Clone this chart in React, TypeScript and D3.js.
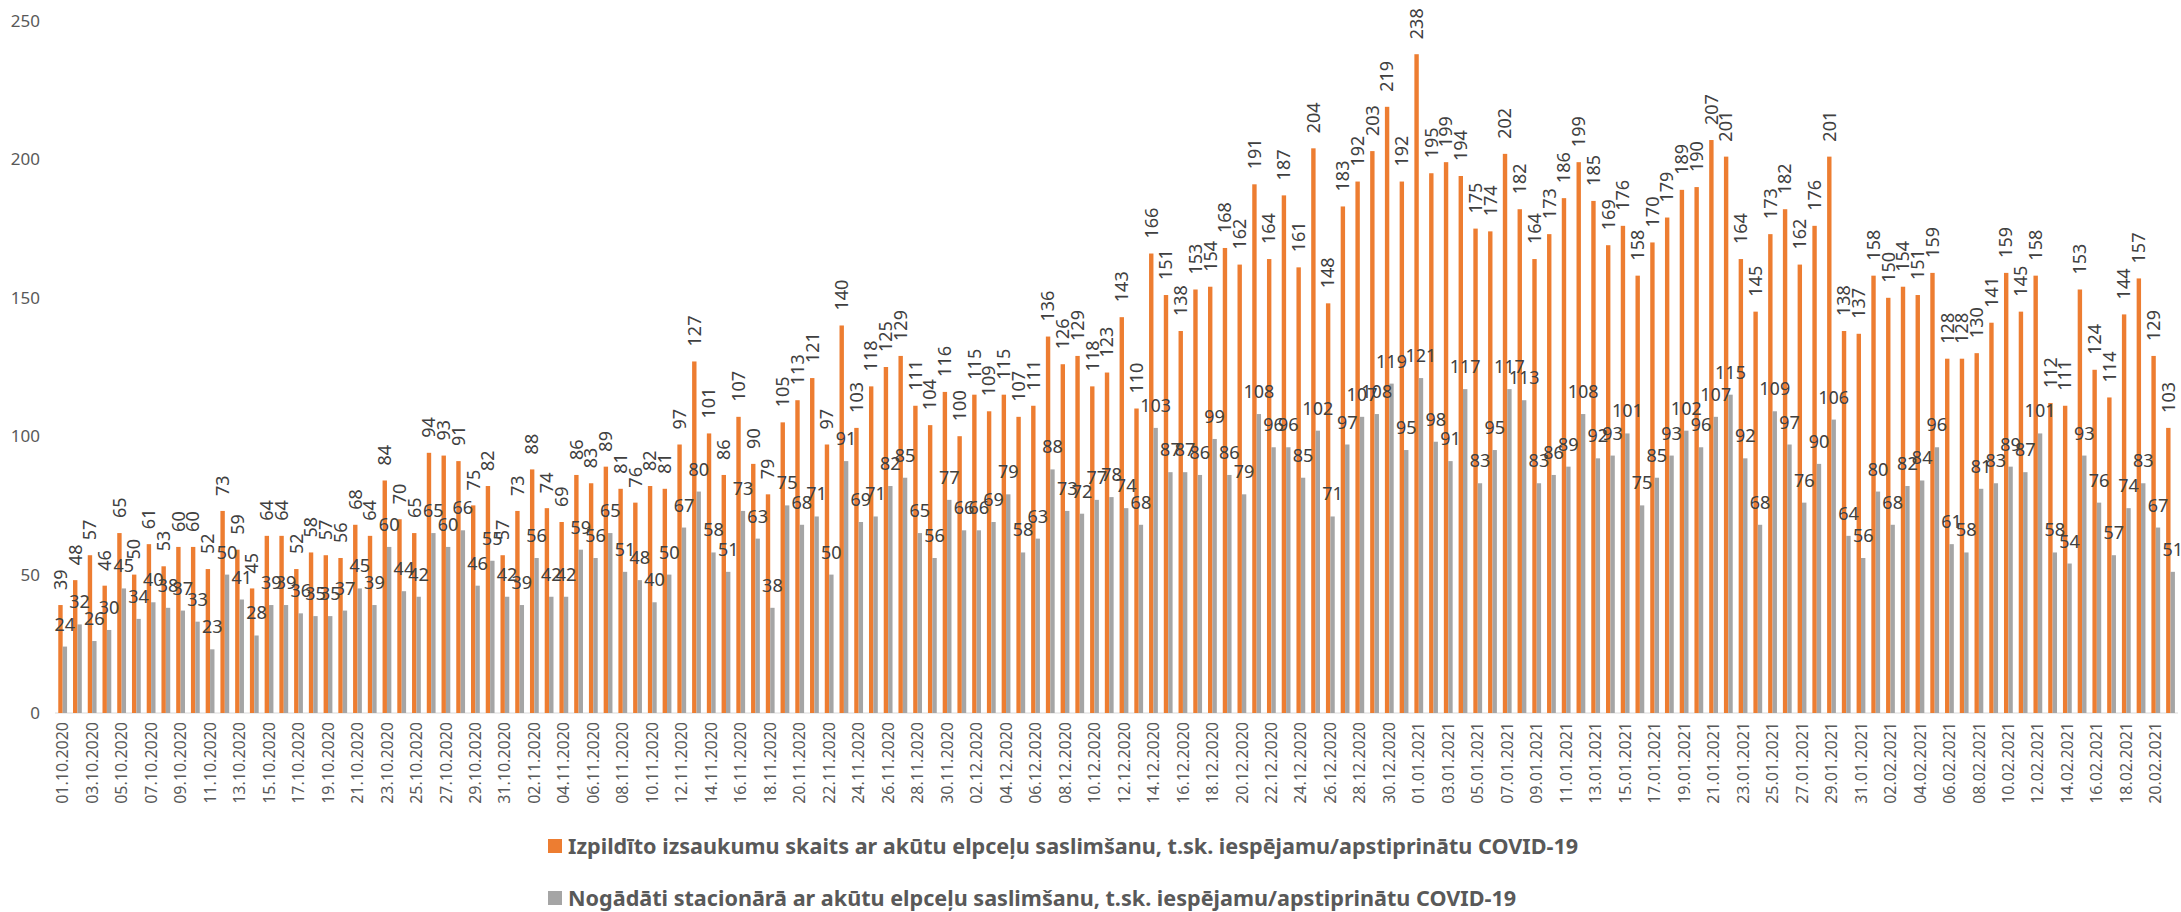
import React from 'react';
import * as d3 from 'd3';

const START = new Date(2020, 9, 1);
const END = new Date(2021, 1, 22);
const fmt = d3.timeFormat('%d.%m.%Y');
const dates: string[] = d3.timeDay.range(START, END).map((d) => fmt(d));

const calls: number[] = [
  39, 48, 57, 46, 65, 50, 61, 53, 60, 60, 52, 73, 59, 45, 64, 64, 52, 58, 57, 56,
  68, 64, 84, 70, 65, 94, 93, 91, 75, 82, 57, 73, 88, 74, 69, 86, 83, 89, 81, 76,
  82, 81, 97, 127, 101, 86, 107, 90, 79, 105, 113, 121, 97, 140, 103, 118, 125, 129, 111, 104,
  116, 100, 115, 109, 115, 107, 111, 136, 126, 129, 118, 123, 143, 110, 166, 151, 138, 153, 154, 168,
  162, 191, 164, 187, 161, 204, 148, 183, 192, 203, 219, 192, 238, 195, 199, 194, 175, 174, 202, 182,
  164, 173, 186, 199, 185, 169, 176, 158, 170, 179, 189, 190, 207, 201, 164, 145, 173, 182, 162, 176,
  201, 138, 137, 158, 150, 154, 151, 159, 128, 128, 130, 141, 159, 145, 158, 112, 111, 153, 124, 114,
  144, 157, 129, 103,
];

const hospital: number[] = [
  24, 32, 26, 30, 45, 34, 40, 38, 37, 33, 23, 50, 41, 28, 39, 39, 36, 35, 35, 37,
  45, 39, 60, 44, 42, 65, 60, 66, 46, 55, 42, 39, 56, 42, 42, 59, 56, 65, 51, 48,
  40, 50, 67, 80, 58, 51, 73, 63, 38, 75, 68, 71, 50, 91, 69, 71, 82, 85, 65, 56,
  77, 66, 66, 69, 79, 58, 63, 88, 73, 72, 77, 78, 74, 68, 103, 87, 87, 86, 99, 86,
  79, 108, 96, 96, 85, 102, 71, 97, 107, 108, 119, 95, 121, 98, 91, 117, 83, 95, 117, 113,
  83, 86, 89, 108, 92, 93, 101, 75, 85, 93, 102, 96, 107, 115, 92, 68, 109, 97, 76, 90,
  106, 64, 56, 80, 68, 82, 84, 96, 61, 58, 81, 83, 89, 87, 101, 58, 54, 93, 76, 57,
  74, 83, 67, 51,
];

const yTicks: number[] = [0, 50, 100, 150, 200, 250];

const seriesNames: string[] = [
  'Izpildīto izsaukumu skaits ar akūtu elpceļu saslimšanu, t.sk. iespējamu/apstiprinātu COVID-19',
  'Nogādāti stacionārā ar akūtu elpceļu saslimšanu, t.sk. iespējamu/apstiprinātu COVID-19',
];
const seriesColors: string[] = ['#ED7D31', '#A5A5A5'];

const W = 2181;
const H = 912;
const FONT = "'Noto Sans', 'Liberation Sans', sans-serif";
const TXT = '#404040';
const AX = '#595959';

export default function App() {
  const x = d3.scaleBand<string>().domain(dates).range([55.3, 2177.9]).padding(0);
  const y = d3.scaleLinear().domain([0, 250]).range([713, 21]);
  const step = x.step();
  const bw = 4.4;
  const mid = (d: string) => (x(d) as number) + step / 2;

  return (
    <svg
      width={W}
      height={H}
      style={{ position: 'absolute', left: 0, top: 0, background: '#fff' }}
      fontFamily={FONT}
    >
      <rect x={0} y={0} width={W} height={H} fill="#fff" />
      {/* y axis labels */}
      {yTicks.map((t) => (
        <text key={t} x={40} y={y(t)} dy="0.35em" textAnchor="end" fontSize={17} fill={AX}>
          {t}
        </text>
      ))}
      {/* baseline */}
      <line x1={55} x2={2178} y1={y(0)} y2={y(0)} stroke="#D9D9D9" strokeWidth={1} />
      {/* bars */}
      {dates.map((d, i) => (
        <g key={d}>
          <rect x={mid(d) - bw} y={y(calls[i])} width={bw} height={y(0) - y(calls[i])} fill={seriesColors[0]} />
          <rect x={mid(d)} y={y(hospital[i])} width={bw} height={y(0) - y(hospital[i])} fill={seriesColors[1]} />
        </g>
      ))}
      {/* grey labels */}
      {dates.map((d, i) => (
        <text key={'h' + d} x={mid(d) + bw / 2} y={y(hospital[i]) - 16} textAnchor="middle" fontSize={18} fill={TXT}>
          {hospital[i]}
        </text>
      ))}
      {/* orange labels */}
      {dates.map((d, i) => (
        <text
          key={'c' + d}
          transform={`translate(${mid(d) - bw / 2},${y(calls[i]) - 15}) rotate(-90)`}
          dy="0.35em"
          textAnchor="start"
          fontSize={18}
          fill={TXT}
        >
          {calls[i]}
        </text>
      ))}
      {/* date labels */}
      {dates.map((d, i) =>
        i % 2 === 0 ? (
          <text
            key={'d' + d}
            transform={`translate(${mid(d)},${y(0) + 9}) rotate(-90)`}
            dy="0.35em"
            textAnchor="end"
            fontSize={16}
            fill={AX}
          >
            {d}
          </text>
        ) : null
      )}
      {/* legend */}
      {seriesNames.map((s, k) => (
        <g key={s} transform={`translate(548,${846 + k * 52})`}>
          <rect x={0} y={-7} width={14} height={14} fill={seriesColors[k]} />
          <text x={20} y={0} dy="0.35em" fontSize={21.6} fontWeight="bold" fill={AX}>
            {s}
          </text>
        </g>
      ))}
    </svg>
  );
}
